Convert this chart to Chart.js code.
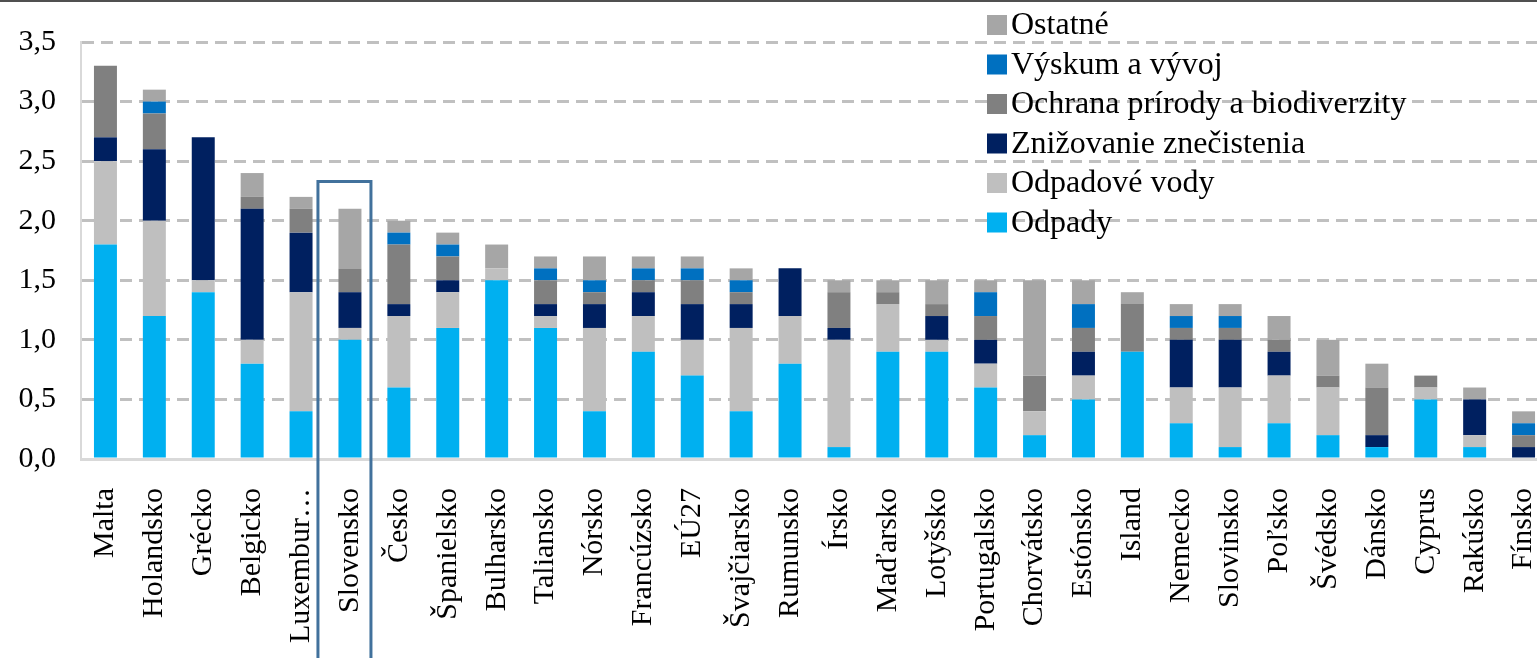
<!DOCTYPE html>
<html>
<head>
<meta charset="utf-8">
<title>Výdavky na ochranu životného prostredia</title>
<script src="https://cdn.jsdelivr.net/npm/chart.js@4.4.1/dist/chart.umd.min.js"></script>
<style>
    html, body { margin: 0; padding: 0; background: #fff; overflow: hidden; }
    #wrap { width: 1550px; height: 658px; }
</style>
</head>
<body>
<div id="wrap"><canvas id="chartExpenses" width="1550" height="658"></canvas></div>
<script>
const countries = ['Malta', 'Holandsko', 'Grécko', 'Belgicko', 'Luxembur…', 'Slovensko', 'Česko', 'Španielsko',
    'Bulharsko', 'Taliansko', 'Nórsko', 'Francúzsko', 'EÚ27', 'Švajčiarsko', 'Rumunsko', 'Írsko', 'Maďarsko',
    'Lotyšsko', 'Portugalsko', 'Chorvátsko', 'Estónsko', 'Island', 'Nemecko', 'Slovinsko', 'Poľsko', 'Švédsko',
    'Dánsko', 'Cyprus', 'Rakúsko', 'Fínsko'];

const odpady       = [1.8, 1.2, 1.4, 0.8, 0.4, 1.0, 0.6, 1.1, 1.5, 1.1, 0.4, 0.9, 0.7, 0.4, 0.8, 0.1, 0.9, 0.9, 0.6, 0.2, 0.5, 0.9, 0.3, 0.1, 0.3, 0.2, 0.1, 0.5, 0.1, 0.0];
const odpadoveVody = [0.7, 0.8, 0.1, 0.2, 1.0, 0.1, 0.6, 0.3, 0.1, 0.1, 0.7, 0.3, 0.3, 0.7, 0.4, 0.9, 0.4, 0.1, 0.2, 0.2, 0.2, 0.0, 0.3, 0.5, 0.4, 0.4, 0.0, 0.1, 0.1, 0.0];
const znizovanie   = [0.2, 0.6, 1.2, 1.1, 0.5, 0.3, 0.1, 0.1, 0.0, 0.1, 0.2, 0.2, 0.3, 0.2, 0.4, 0.1, 0.0, 0.2, 0.2, 0.0, 0.2, 0.0, 0.4, 0.4, 0.2, 0.0, 0.1, 0.0, 0.3, 0.1];
const ochrana      = [0.6, 0.3, 0.0, 0.1, 0.2, 0.2, 0.5, 0.2, 0.0, 0.2, 0.1, 0.1, 0.2, 0.1, 0.0, 0.3, 0.1, 0.1, 0.2, 0.3, 0.2, 0.4, 0.1, 0.1, 0.1, 0.1, 0.4, 0.1, 0.0, 0.1];
const vyskum       = [0.0, 0.1, 0.0, 0.0, 0.0, 0.0, 0.1, 0.1, 0.0, 0.1, 0.1, 0.1, 0.1, 0.1, 0.0, 0.0, 0.0, 0.0, 0.2, 0.0, 0.2, 0.0, 0.1, 0.1, 0.0, 0.0, 0.0, 0.0, 0.0, 0.1];
const ostatne      = [0.0, 0.1, 0.0, 0.2, 0.1, 0.5, 0.1, 0.1, 0.2, 0.1, 0.2, 0.1, 0.1, 0.1, 0.0, 0.1, 0.1, 0.2, 0.1, 0.8, 0.2, 0.1, 0.1, 0.1, 0.2, 0.3, 0.2, 0.0, 0.1, 0.1];

const yTicks = [0, 0.5, 1.0, 1.5, 2.0, 2.5, 3.0, 3.5];
const highlighted = 'Slovensko';

const serif = '"Liberation Serif", "Times New Roman", serif';

// legend drawn inside the plot, top to bottom = reverse of stacking order
const sideLegend = {
    id: 'sideLegend',
    afterDraw(chart) {
        const ctx = chart.ctx;
        const sets = chart.data.datasets.slice().reverse();
        ctx.save();
        ctx.font = '32px ' + serif;
        ctx.textBaseline = 'middle';
        ctx.textAlign = 'left';
        sets.forEach((ds, i) => {
            const y = 25 + i * 39.5;
            ctx.fillStyle = ds.backgroundColor;
            ctx.fillRect(987, y - 10, 20, 20);
            ctx.fillStyle = '#000';
            ctx.fillText(ds.label, 1011, y + 1);
        });
        ctx.restore();
    }
};

// frame around Slovensko and the thin rule on top
const decorations = {
    id: 'decorations',
    afterDraw(chart) {
        const ctx = chart.ctx;
        const x = chart.scales.x.getPixelForValue(countries.indexOf(highlighted));
        ctx.save();
        ctx.strokeStyle = '#41719C';
        ctx.lineWidth = 3;
        ctx.strokeRect(x - 32, 181.5, 53, 520);
        ctx.strokeStyle = '#505050';
        ctx.lineWidth = 2;
        ctx.beginPath();
        ctx.moveTo(0, 1);
        ctx.lineTo(chart.width, 1);
        ctx.stroke();
        ctx.restore();
    }
};

document.addEventListener('DOMContentLoaded', function () {
    const ctxExp = document.getElementById('chartExpenses');

    const series = [
        { label: 'Odpady', data: odpady, color: '#00B0F0' },
        { label: 'Odpadové vody', data: odpadoveVody, color: '#BFBFBF' },
        { label: 'Znižovanie znečistenia', data: znizovanie, color: '#002060' },
        { label: 'Ochrana prírody a biodiverzity', data: ochrana, color: '#808080' },
        { label: 'Výskum a vývoj', data: vyskum, color: '#0070C0' },
        { label: 'Ostatné', data: ostatne, color: '#A6A6A6' }
    ];

    new Chart(ctxExp, {
        type: 'bar',
        data: {
            labels: countries,
            datasets: series.map(s => ({
                label: s.label,
                data: s.data,
                backgroundColor: s.color,
                borderWidth: 0,
                categoryPercentage: 1,
                barPercentage: 0.47
            }))
        },
        options: {
            responsive: false,
            animation: false,
            devicePixelRatio: 1,
            layout: {
                padding: { top: 42, right: 2, left: 0, bottom: 0 }
            },
            plugins: {
                legend: { display: false },
                tooltip: { enabled: false }
            },
            scales: {
                x: {
                    stacked: true,
                    grid: { display: false },
                    border: { display: true, color: '#D9D9D9', width: 3 },
                    ticks: {
                        color: '#000',
                        font: { family: serif, size: 30 },
                        minRotation: 90,
                        maxRotation: 90,
                        autoSkip: false,
                        padding: 21
                    },
                    afterFit(scale) {
                        scale.height = 199;
                        scale.paddingLeft = 0;
                        scale.paddingRight = 0;
                    }
                },
                y: {
                    stacked: true,
                    min: 0,
                    max: 3.5,
                    afterBuildTicks(scale) {
                        scale.ticks = yTicks.map(v => ({ value: v }));
                    },
                    grid: {
                        color: '#C0C0C0',
                        lineWidth: 3,
                        drawTicks: false
                    },
                    border: { display: true, color: '#D9D9D9', width: 2, dash: [12, 7] },
                    ticks: {
                        color: '#000',
                        font: { family: serif, size: 30 },
                        padding: 25,
                        callback: v => v.toFixed(1).replace('.', ',')
                    },
                    afterFit(scale) {
                        scale.width = 81;
                        scale.paddingTop = 0;
                        scale.paddingBottom = 0;
                    }
                }
            }
        },
        plugins: [sideLegend, decorations]
    });
});
</script>
</body>
</html>
